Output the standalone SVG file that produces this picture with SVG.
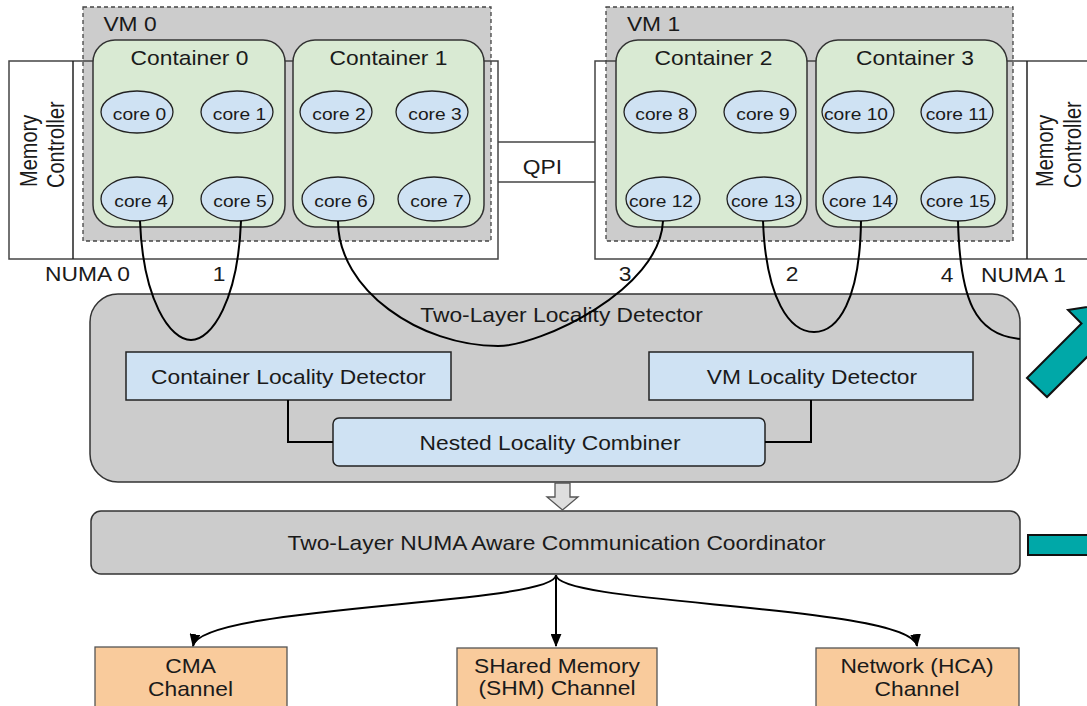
<svg xmlns="http://www.w3.org/2000/svg" width="1087" height="706" viewBox="0 0 1087 706">
<defs>
<style>
.t{font-family:"Liberation Sans",Arial,sans-serif;font-size:20px;fill:#1a1a1a;text-anchor:middle}
.c{font-size:17px}
.s{text-anchor:start;font-size:20px}
.vm{fill:#cccccc;stroke:#444;stroke-width:1.3;stroke-dasharray:4,3}
.numa{fill:none;stroke:#444;stroke-width:1.5}
.cont{fill:#d9ead3;stroke:#333;stroke-width:1.5}
.core{fill:#cfe2f3;stroke:#222;stroke-width:1.3}
.box{fill:#cfe2f3;stroke:#222;stroke-width:1.5}
.gray{fill:#cccccc;stroke:#333;stroke-width:1.5}
.ch{fill:#f9cb9c;stroke:#555;stroke-width:1.3}
.ln{fill:none;stroke:#000;stroke-width:2}
.teal{fill:#00a8a8;stroke:#111;stroke-width:2}
</style>
<marker id="ah2" viewBox="0 0 12 10" refX="11" refY="5" markerWidth="13" markerHeight="11" markerUnits="userSpaceOnUse" orient="auto">
<path d="M0,0 L12,5 L0,10 z" fill="#000"/>
</marker>
</defs>
<rect width="1087" height="706" fill="#fff"/>

<!-- NUMA 0 -->
<g id="vm0">
<rect class="vm" x="83" y="7" width="408" height="234"/>
<text class="t" transform="translate(130,31) scale(1.14,1)">VM 0</text>
</g>
<g id="numa0">
<rect class="numa" x="9" y="61" width="489" height="198"/>
<line x1="73" y1="61" x2="73" y2="259" stroke="#222" stroke-width="1.5"/>
<text class="t s" transform="translate(37,187) scale(1.15,1) rotate(-90)">Memory</text>
<text class="t s" transform="translate(64,188) scale(1.15,1) rotate(-90)">Controller</text>
<text class="t" transform="translate(87.5,281) scale(1.14,1)">NUMA 0</text>
</g>
<g id="container0">
<rect class="cont" x="93" y="40" width="192" height="187" rx="22"/>
<text class="t" transform="translate(189.5,65) scale(1.14,1)">Container 0</text>
</g>
<g id="container1">
<rect class="cont" x="293" y="40" width="191" height="187" rx="22"/>
<text class="t" transform="translate(388.5,65) scale(1.14,1)">Container 1</text>
</g>

<!-- NUMA 1 -->
<g id="vm1">
<rect class="vm" x="606" y="7" width="407" height="234"/>
<text class="t" transform="translate(653.5,31) scale(1.14,1)">VM 1</text>
</g>
<g id="numa1">
<rect class="numa" x="595" y="61" width="510" height="198"/>
<line x1="1027" y1="61" x2="1027" y2="259" stroke="#222" stroke-width="1.5"/>
<text class="t s" transform="translate(1053,187) scale(1.15,1) rotate(-90)">Memory</text>
<text class="t s" transform="translate(1081,188) scale(1.15,1) rotate(-90)">Controller</text>
<text class="t" transform="translate(1023.5,282) scale(1.14,1)">NUMA 1</text>
</g>
<g id="container2">
<rect class="cont" x="616" y="40" width="191" height="187" rx="22"/>
<text class="t" transform="translate(713.5,65) scale(1.14,1)">Container 2</text>
</g>
<g id="container3">
<rect class="cont" x="816" y="40" width="191" height="187" rx="22"/>
<text class="t" transform="translate(915,65) scale(1.14,1)">Container 3</text>
</g>

<!-- cores -->
<g id="core0"><ellipse class="core" cx="137" cy="112" rx="36" ry="21"/><text class="t c" transform="translate(139.5,120) scale(1.13,1)">core 0</text></g>
<g id="core1"><ellipse class="core" cx="237" cy="112" rx="36" ry="21"/><text class="t c" transform="translate(239.5,120) scale(1.13,1)">core 1</text></g>
<g id="core4"><ellipse class="core" cx="137" cy="199" rx="36" ry="22"/><text class="t c" transform="translate(141,207) scale(1.13,1)">core 4</text></g>
<g id="core5"><ellipse class="core" cx="237" cy="199" rx="36" ry="22"/><text class="t c" transform="translate(240,207) scale(1.13,1)">core 5</text></g>
<g id="core2"><ellipse class="core" cx="336" cy="112" rx="36" ry="21"/><text class="t c" transform="translate(339,120) scale(1.13,1)">core 2</text></g>
<g id="core3"><ellipse class="core" cx="432" cy="112" rx="36" ry="21"/><text class="t c" transform="translate(435,120) scale(1.13,1)">core 3</text></g>
<g id="core6"><ellipse class="core" cx="338" cy="199" rx="36" ry="22"/><text class="t c" transform="translate(341,207) scale(1.13,1)">core 6</text></g>
<g id="core7"><ellipse class="core" cx="434" cy="199" rx="36" ry="22"/><text class="t c" transform="translate(437,207) scale(1.13,1)">core 7</text></g>
<g id="core8"><ellipse class="core" cx="660" cy="112" rx="36" ry="21"/><text class="t c" transform="translate(662,120) scale(1.13,1)">core 8</text></g>
<g id="core9"><ellipse class="core" cx="760" cy="112" rx="36" ry="21"/><text class="t c" transform="translate(763,120) scale(1.13,1)">core 9</text></g>
<g id="core10"><ellipse class="core" cx="858" cy="112" rx="36" ry="21"/><text class="t c" transform="translate(856,120) scale(1.13,1)">core 10</text></g>
<g id="core11"><ellipse class="core" cx="957" cy="112" rx="36" ry="21"/><text class="t c" transform="translate(957,120) scale(1.13,1)">core 11</text></g>
<g id="core12"><ellipse class="core" cx="663" cy="199" rx="37" ry="22"/><text class="t c" transform="translate(661,207) scale(1.13,1)">core 12</text></g>
<g id="core13"><ellipse class="core" cx="764" cy="199" rx="37" ry="22"/><text class="t c" transform="translate(763,207) scale(1.13,1)">core 13</text></g>
<g id="core14"><ellipse class="core" cx="860" cy="199" rx="37" ry="22"/><text class="t c" transform="translate(861,207) scale(1.13,1)">core 14</text></g>
<g id="core15"><ellipse class="core" cx="958" cy="199" rx="37" ry="22"/><text class="t c" transform="translate(958,207) scale(1.13,1)">core 15</text></g>

<!-- QPI -->
<g id="qpi">
<line x1="498" y1="142" x2="595" y2="142" stroke="#444" stroke-width="1.3"/>
<line x1="498" y1="182" x2="595" y2="182" stroke="#444" stroke-width="1.3"/>
<text class="t" transform="translate(542.5,174) scale(1.14,1)">QPI</text>
</g>

<!-- detector -->
<g id="detector">
<rect class="gray" x="90" y="294" width="930" height="188" rx="28"/>
<text class="t" transform="translate(561.5,322) scale(1.14,1)">Two-Layer Locality Detector</text>
</g>
<g id="containerLD">
<rect class="box" x="126" y="352" width="325" height="48"/>
<text class="t" transform="translate(288.5,384) scale(1.14,1)">Container Locality Detector</text>
</g>
<g id="vmLD">
<rect class="box" x="649" y="352" width="324" height="48"/>
<text class="t" transform="translate(812,384) scale(1.14,1)">VM Locality Detector</text>
</g>
<g id="combiner">
<rect class="box" x="333" y="418" width="432" height="48" rx="6"/>
<text class="t" transform="translate(550,450) scale(1.14,1)">Nested Locality Combiner</text>
</g>

<!-- coordinator -->
<g id="coordinator">
<rect class="gray" x="91" y="511" width="929" height="63" rx="10"/>
<text class="t" transform="translate(556.5,550) scale(1.14,1)">Two-Layer NUMA Aware Communication Coordinator</text>
</g>

<!-- channels -->
<g id="cma">
<rect class="ch" x="95" y="647" width="192" height="70"/>
<text class="t" transform="translate(190.5,673) scale(1.14,1)">CMA</text>
<text class="t" transform="translate(190.5,696) scale(1.14,1)">Channel</text>
</g>
<g id="shm">
<rect class="ch" x="457" y="648" width="200" height="70"/>
<text class="t" transform="translate(557,673) scale(1.14,1)">SHared Memory</text>
<text class="t" transform="translate(557,695) scale(1.14,1)">(SHM) Channel</text>
</g>
<g id="hca">
<rect class="ch" x="816" y="648" width="203" height="70"/>
<text class="t" transform="translate(917,673) scale(1.14,1)">Network (HCA)</text>
<text class="t" transform="translate(917,696) scale(1.14,1)">Channel</text>
</g>

<!-- labels -->
<g id="pathlabels">
<text class="t" transform="translate(219,281) scale(1.14,1)">1</text>
<text class="t" transform="translate(625,281) scale(1.14,1)">3</text>
<text class="t" transform="translate(792,281) scale(1.14,1)">2</text>
<text class="t" transform="translate(947,282) scale(1.14,1)">4</text>
</g>

<!-- teal arrows -->
<g id="teal">
<polygon class="teal" points="1027,378 1081.5,323.5 1068,310 1123,301 1115,356 1101.5,342.5 1047,397"/>
<rect class="teal" x="1028" y="535" width="80" height="20"/>
</g>

<!-- connectors -->
<g id="connectors">
<path class="ln" d="M140,221 C143,300 170,340 191,340 C212,340 238,300 241,221"/>
<path class="ln" d="M338,221 C338,290 420,346 498,346 C540,346 660,290 663,221"/>
<path class="ln" d="M763,221 C766,300 790,332 814,332 C838,332 860,300 861,221"/>
<path class="ln" d="M958,221 C960,300 975,335 1020,339"/>
<polyline class="ln" points="288,400 288,442 333,442"/>
<polyline class="ln" points="811,400 811,442 765,442"/>
<polygon points="555,483 570,483 570,497 578,497 562.5,510 547,497 555,497" fill="#dedede" stroke="#555" stroke-width="1.3"/>
<path class="ln" d="M556,575 C556,605 200,605 193,646" marker-end="url(#ah2)"/>
<path class="ln" d="M556,575 L556,646" marker-end="url(#ah2)"/>
<path class="ln" d="M556,575 C556,605 912,605 917,646" marker-end="url(#ah2)"/>
</g>
</svg>
